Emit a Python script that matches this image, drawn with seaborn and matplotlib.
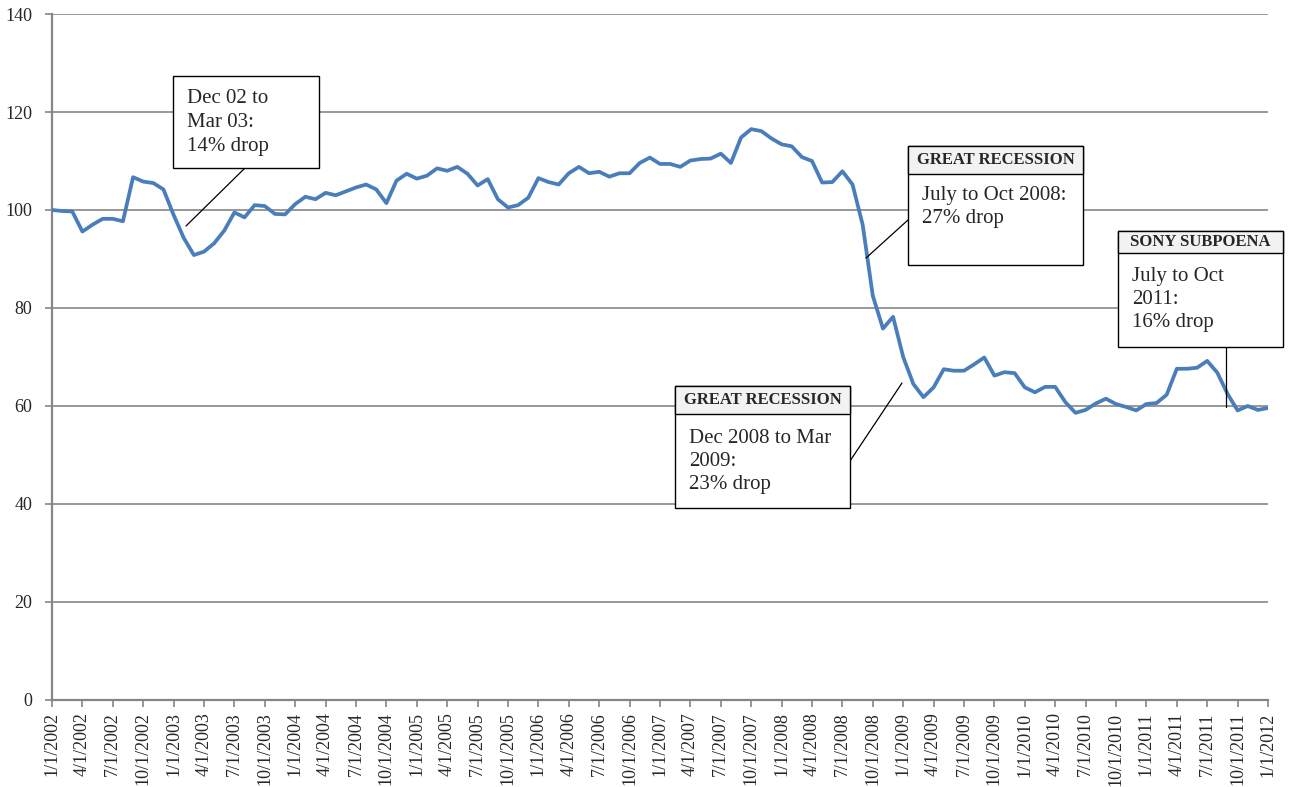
import matplotlib
matplotlib.use("Agg")
import matplotlib.pyplot as plt
import pandas as pd
import seaborn as sns
from matplotlib.patches import Rectangle
from matplotlib.lines import Line2D

# monthly index, Jan 2002 = 100, through Jan 2012
start_date = "2002-01-01"
index_values = [
    100.0, 99.8, 99.7, 95.6, 97.0, 98.2, 98.2, 97.7, 106.7, 105.8, 105.5, 104.2,
    99.0, 94.3, 90.8, 91.5, 93.2, 95.8, 99.5, 98.5, 101.0, 100.8, 99.2, 99.1,
    101.2, 102.7, 102.2, 103.5, 103.0, 103.8, 104.6, 105.2, 104.2, 101.4, 106.0, 107.4,
    106.4, 107.0, 108.5, 108.0, 108.8, 107.4, 105.0, 106.3, 102.2, 100.5, 101.0, 102.5,
    106.5, 105.7, 105.2, 107.5, 108.8, 107.5, 107.8, 106.8, 107.5, 107.5, 109.6, 110.7,
    109.4, 109.4, 108.8, 110.1, 110.4, 110.5, 111.5, 109.6, 114.8, 116.5, 116.1, 114.6,
    113.4, 113.0, 110.8, 110.0, 105.6, 105.7, 107.9, 105.2, 97.0, 82.5, 75.8, 78.2,
    70.0, 64.5, 61.8, 63.8, 67.5, 67.2, 67.2, 68.5, 69.9, 66.2, 66.9, 66.7,
    63.8, 62.8, 63.9, 63.9, 60.8, 58.6, 59.2, 60.5, 61.5, 60.4, 59.8, 59.1,
    60.4, 60.6, 62.3, 67.6, 67.6, 67.8, 69.2, 66.8, 62.5, 59.1, 60.0, 59.2,
    59.6,
]
y_ticks = [0, 20, 40, 60, 80, 100, 120, 140]

dates = pd.date_range(start_date, periods=len(index_values), freq="MS")
df = pd.DataFrame({"month": range(len(index_values)), "value": index_values})
tick_pos = list(range(0, len(index_values), 3))
tick_labels = [f"{d.month}/1/{d.year}" for d in dates[::3]]

# callouts: (header, body lines)
callouts = [
    (None, ["Dec 02 to", "Mar 03:", "14% drop"]),
    ("GREAT RECESSION", ["July to Oct 2008:", "27% drop"]),
    ("GREAT RECESSION", ["Dec 2008 to Mar", "2009:", "23% drop"]),
    ("SONY SUBPOENA", ["July to Oct", "2011:", "16% drop"]),
]

W, H = 1290, 787
sns.set_style("white")
plt.rcParams["font.family"] = ["Liberation Serif", "DejaVu Serif"]

fig = plt.figure(figsize=(W / 100, H / 100), dpi=100)
ax = fig.add_axes([52 / W, 1 - 700 / H, (1268 - 52) / W, (700 - 14) / H])

sns.lineplot(data=df, x="month", y="value", ax=ax, color="#4A7EBB", lw=2.7,
             zorder=3)

ax.set_xlim(0, len(index_values) - 1)
ax.set_ylim(0, 140)
ax.set_yticks(y_ticks)
ax.set_yticklabels([str(v) for v in y_ticks], fontsize=13)
ax.set_xticks(tick_pos)
ax.set_xticklabels(tick_labels, rotation=90, fontsize=13)
ax.set_xlabel("")
ax.set_ylabel("")
ax.tick_params(axis="both", length=5, width=1.2, color="#868686",
               direction="out", left=True, bottom=True)
ax.tick_params(axis="y", pad=9)
ax.tick_params(axis="x", pad=4)
ax.yaxis.grid(True, color="#868686", lw=1.2)
ax.set_axisbelow(True)
for s in ["top", "right"]:
    ax.spines[s].set_visible(False)
for s in ["left", "bottom"]:
    ax.spines[s].set_color("#868686")
    ax.spines[s].set_linewidth(1.6)


def fx(x):
    return x / W


def fy(y):
    return 1 - y / H


def box(x0, y0, x1, y1, fill="white"):
    fig.add_artist(Rectangle((fx(x0), fy(y1)), fx(x1) - fx(x0), fy(y0) - fy(y1),
                             transform=fig.transFigure, facecolor=fill,
                             edgecolor="black", lw=1.0, zorder=6))


def connector(p0, p1):
    fig.add_artist(Line2D([fx(p0[0]), fx(p1[0])], [fy(p0[1]), fy(p1[1])],
                          transform=fig.transFigure, color="black", lw=0.9,
                          zorder=5))


def write(x, y, s, **kw):
    fig.text(fx(x), fy(y), s, va="baseline", ha="left", zorder=7, **kw)


# box geometry in pixels: body (x0, y0, x1, y1), header bottom, text x, baselines, connector
layout = [
    dict(body=(173, 76, 319, 168), head=None, tx=187, base=[103, 127, 151],
         conn=((245, 168), (186, 226))),
    dict(body=(908, 146, 1083, 265), head=174, tx=922, base=[200, 223],
         conn=((908, 220), (866, 258))),
    dict(body=(675, 386, 850, 508), head=414, tx=689, base=[443, 466, 489],
         conn=((850, 461), (902, 383))),
    dict(body=(1118, 231, 1283, 347), head=253, tx=1132, base=[281, 304, 327],
         conn=((1226, 347), (1226, 407))),
]

for (header, lines), lay in zip(callouts, layout):
    x0, y0, x1, y1 = lay["body"]
    connector(*lay["conn"])
    box(x0, y0, x1, y1)
    if header:
        box(x0, y0, x1, lay["head"], fill="#F2F2F2")
        fig.text(fx((x0 + x1) / 2), fy((y0 + lay["head"]) / 2), header,
                 ha="center", va="center", fontsize=12, fontweight="bold",
                 zorder=7)
    for line, b in zip(lines, lay["base"]):
        write(lay["tx"], b, line, fontsize=15)

fig.savefig("out.png", dpi=100)
